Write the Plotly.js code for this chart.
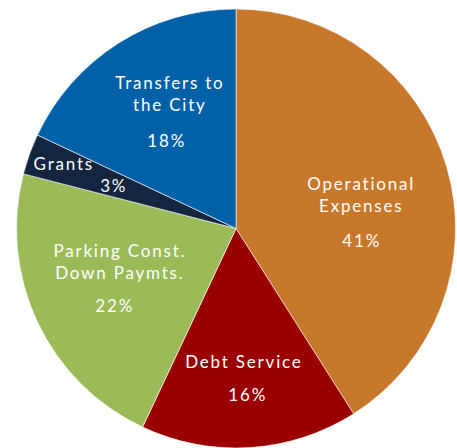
<!DOCTYPE html>
<html>
<head>
<meta charset="utf-8">
<script src="https://cdn.plot.ly/plotly-3.0.1.min.js"></script>
<style>html,body{margin:0;padding:0;background:#fff;}#chart{width:457px;height:448px;}
#chart .annotation-text{letter-spacing:1.8px;}</style>
</head>
<body>
<div id="chart"></div>
<script>
const categories = ["Operational<br>Expenses", "Debt Service", "Parking Const.<br>Down Paymts.", "Grants", "Transfers to<br>the City"];
const values = [41, 16, 22, 3, 18];
const colors = ["#C8782A", "#9A0000", "#9BBB59", "#13253F", "#0161A8"];

// label placement (pixels) for name and percentage
const namePos = [[361, 194], [244, 361], [120, 261], [64, 163], [170, 93]];
const pctPos = [[361, 240], [247, 394], [115, 305], [114, 185], [166, 141]];

const W = 457, H = 448;
const fontFam = "Lato, 'DejaVu Sans', sans-serif";
const annotations = [];
categories.forEach((c, i) => {
  annotations.push({
    text: c, xref: 'paper', yref: 'paper',
    x: namePos[i][0] / W, y: 1 - namePos[i][1] / H,
    xanchor: 'center', yanchor: 'middle', showarrow: false,
    font: {family: fontFam, size: 17, color: '#FFFFFF'}
  });
  annotations.push({
    text: values[i] + '%', xref: 'paper', yref: 'paper',
    x: pctPos[i][0] / W, y: 1 - pctPos[i][1] / H,
    xanchor: 'center', yanchor: 'middle', showarrow: false,
    font: {family: fontFam, size: 17, color: '#FFFFFF'}
  });
});

Plotly.newPlot('chart', [{
  type: 'pie',
  labels: categories,
  values: values,
  sort: false,
  direction: 'clockwise',
  rotation: 0,
  textinfo: 'none',
  hoverinfo: 'none',
  marker: {colors: colors, line: {color: '#FFFFFF', width: 0.6}},
  domain: {x: [0.035, 0.998], y: [0, 0.98]}
}], {
  width: W, height: H,
  margin: {l: 0, r: 0, t: 0, b: 0},
  showlegend: false,
  paper_bgcolor: '#FFFFFF',
  annotations: annotations
}, {displayModeBar: false, staticPlot: true});
</script>
</body>
</html>
